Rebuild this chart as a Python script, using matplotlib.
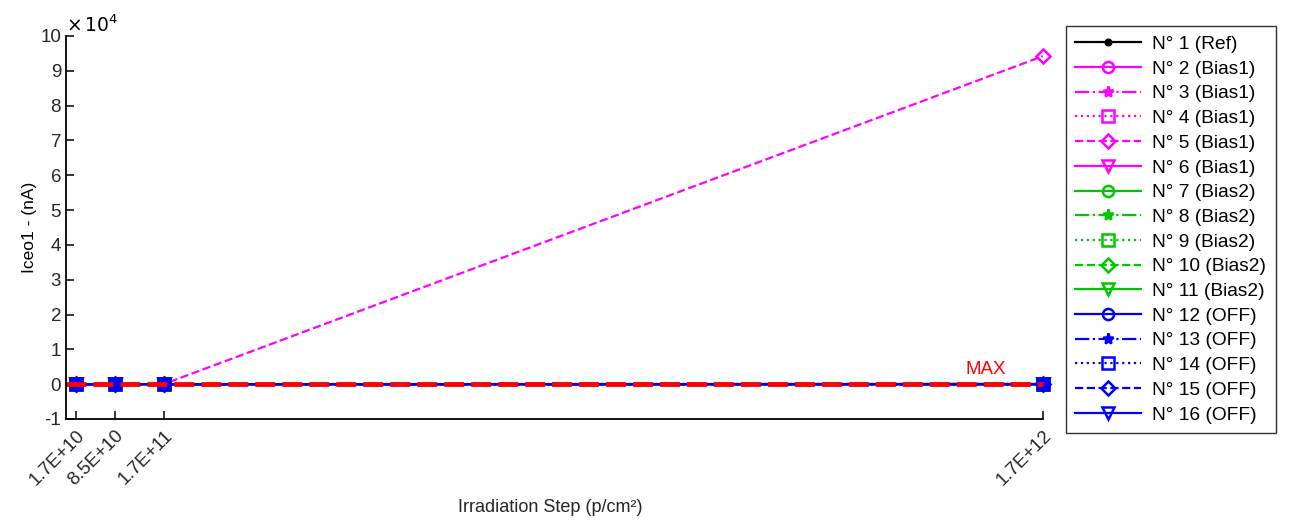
import matplotlib.pyplot as plt
from matplotlib.ticker import FuncFormatter

plt.rcParams['font.family'] = ['Liberation Sans', 'DejaVu Sans']

# irradiation steps (p/cm2)
steps = [1.7e10, 8.5e10, 1.7e11, 1.7e12]
step_labels = ['1.7E+10', '8.5E+10', '1.7E+11', '1.7E+12']

names = ['N° 1 (Ref)', 'N° 2 (Bias1)', 'N° 3 (Bias1)', 'N° 4 (Bias1)',
         'N° 5 (Bias1)', 'N° 6 (Bias1)', 'N° 7 (Bias2)', 'N° 8 (Bias2)',
         'N° 9 (Bias2)', 'N° 10 (Bias2)', 'N° 11 (Bias2)', 'N° 12 (OFF)',
         'N° 13 (OFF)', 'N° 14 (OFF)', 'N° 15 (OFF)', 'N° 16 (OFF)']

# Iceo1 leakage in nA, one list per device
iceo1 = [
    [2, 2, 3, 4],
    [3, 4, 6, 40],
    [3, 5, 7, 35],
    [2, 4, 6, 30],
    [3, 5, 8, 94200],
    [2, 4, 6, 45],
    [2, 3, 5, 25],
    [3, 4, 6, 30],
    [2, 3, 5, 28],
    [3, 4, 6, 22],
    [2, 3, 5, 26],
    [2, 2, 3, 5],
    [2, 2, 3, 4],
    [2, 2, 3, 5],
    [2, 2, 3, 4],
    [2, 2, 3, 5],
]
max_limit = 100

colors = ['black'] + ['#ff00ff'] * 5 + ['#00c800'] * 5 + ['#0000ff'] * 5
styles = ['-'] + ['-', '-.', ':', '--', '-'] * 3
markers = ['.'] + ['o', '*', 's', 'D', 'v'] * 3

fs = 13.5
fig = plt.figure(figsize=(12.98, 5.29), dpi=100)
ax = fig.add_axes([0.0508, 0.208, 0.7527, 0.724])

for vals, name, c, ls, mk in zip(iceo1, names, colors, styles, markers):
    ax.plot(steps, vals, color=c, linestyle=ls, marker=mk, label=name,
            linewidth=1.6, markersize=8 if mk != 'D' else 7,
            markerfacecolor='none' if mk in 'osDv' else c,
            markeredgewidth=1.8, clip_on=False)

# limit line
ax.plot([0, steps[-1]], [max_limit, max_limit], color='red',
        linestyle=(0, (4.1, 1.45)), linewidth=3.5, clip_on=False)
ax.text(1.6e12, 2800, 'MAX', color='red', fontsize=fs, ha='center')

ax.set_xlim(0, steps[-1])
ax.set_ylim(-1e4, 1e5)
ax.set_xticks(steps)
ax.set_xticklabels(step_labels, rotation=45, ha='right', rotation_mode='anchor')
ax.set_yticks(range(-10000, 100001, 10000))
ax.yaxis.set_major_formatter(FuncFormatter(lambda v, p: f'{v / 1e4:.0f}'))
ax.text(0, 1.01, r'$\times\,10^4$', transform=ax.transAxes, fontsize=fs)

ax.spines['top'].set_visible(False)
ax.spines['right'].set_visible(False)
ax.spines['left'].set_linewidth(1.3)
ax.spines['bottom'].set_linewidth(1.3)
ax.tick_params(direction='in', length=6, width=1.3, labelsize=fs, colors='#262626')
ax.tick_params(axis='x', pad=6)
ax.set_ylabel('Iceo1 - (nA)', fontsize=fs - 1, labelpad=2)
fig.text(0.424, 0.025, 'Irradiation Step (p/cm²)', fontsize=fs - 0.5,
         ha='center', va='bottom', color='#262626')

ax.legend(loc='upper left', bbox_to_anchor=(1.0235, 1.026), fontsize=fs + 0.3,
          frameon=True, fancybox=False, edgecolor='black', handlelength=3.4,
          labelspacing=0.38, borderpad=0.5, handletextpad=0.6, borderaxespad=0)

fig.savefig('out.png', dpi=100)
